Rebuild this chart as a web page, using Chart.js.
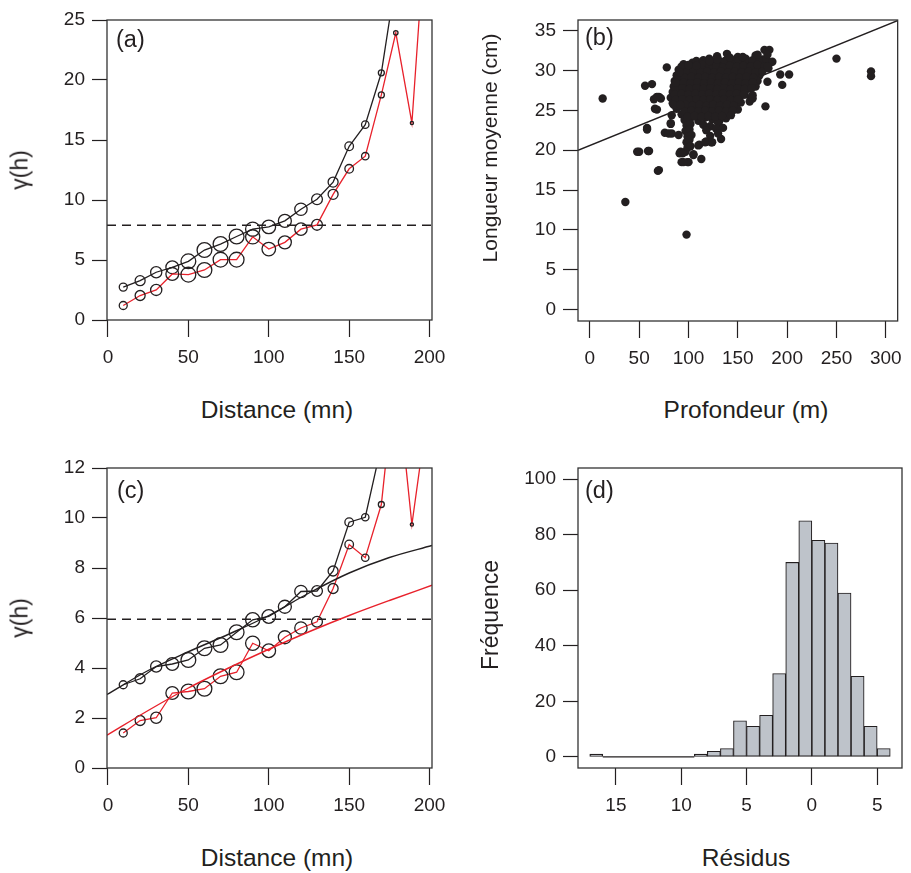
<!DOCTYPE html>
<html><head><meta charset="utf-8">
<script src="https://cdn.jsdelivr.net/npm/chart.js@4.4.1/dist/chart.umd.min.js"></script>
<style>
html,body{margin:0;padding:0;background:#fff;}
#wrap{position:relative;width:911px;height:873px;overflow:hidden;font-family:'Liberation Sans',Arial,Helvetica,sans-serif;color:#231f20;}
canvas{position:absolute;}
.t{position:absolute;white-space:nowrap;line-height:1;font-size:24.5px;transform:translate(-50%,-50%);}
.ty{position:absolute;white-space:nowrap;line-height:1;font-size:23px;transform:translate(-50%,-50%) rotate(-90deg);}
.p{position:absolute;white-space:nowrap;line-height:1;font-size:23.5px;}
</style></head>
<body><div id="wrap">
<canvas id="ca" width="460" height="380" style="left:0;top:0"></canvas>
<canvas id="cb" width="451" height="380" style="left:460px;top:0"></canvas>
<canvas id="cc" width="460" height="388" style="left:0;top:440px"></canvas>
<canvas id="cd" width="451" height="388" style="left:460px;top:440px"></canvas>

<div class="p" style="left:116px;top:28px">(a)</div>
<div class="p" style="left:585px;top:26px">(b)</div>
<div class="p" style="left:117px;top:479px">(c)</div>
<div class="p" style="left:585px;top:479px">(d)</div>

<div class="t" style="left:277px;top:410px">Distance (mn)</div>
<div class="t" style="left:746px;top:410px">Profondeur (m)</div>
<div class="t" style="left:277px;top:858px">Distance (mn)</div>
<div class="t" style="left:746px;top:858px">Résidus</div>
<div class="ty" style="left:20px;top:170px">γ(h)</div>
<div class="ty" style="left:489px;top:148px;font-size:21px">Longueur moyenne (cm)</div>
<div class="ty" style="left:20px;top:618px">γ(h)</div>
<div class="ty" style="left:490px;top:615px">Fréquence</div>
</div>
<script>
// ---------------- DATA ----------------
// (a) empirical variograms (distance classes, mn)
const lags = [9.5, 20, 30, 40, 50, 60, 70, 80, 90, 100, 110, 120, 130, 140, 150, 160, 170, 179, 189, 199];
const gammaBlackA = [2.74, 3.28, 3.98, 4.39, 4.89, 5.83, 6.33, 6.96, 7.57, 7.76, 8.26, 9.23, 10.06, 11.49, 14.48, 16.28, 20.6, 28.4];
const gammaRedA = [1.21, 2.04, 2.51, 3.84, 3.78, 4.17, 5.03, 5.03, 6.93, 5.91, 6.47, 7.57, 7.93, 10.47, 12.6, 13.65, 18.76, 23.93, 16.42, 35.7];
const sillA = 7.9;
const xTicksDist = [0, 50, 100, 150, 200];
const yTicksA = [0, 5, 10, 15, 20, 25];

// (c) residual variograms and fitted models
const gammaBlackC = [3.33, 3.57, 4.06, 4.16, 4.32, 4.79, 4.92, 5.43, 5.93, 6.06, 6.45, 7.06, 7.08, 7.88, 9.83, 10.03, 12.9];
const gammaRedC = [1.40, 1.90, 2.01, 3.00, 3.06, 3.17, 3.67, 3.83, 4.99, 4.69, 5.23, 5.60, 5.85, 7.18, 8.94, 8.41, 10.54, 16.0, 9.74, 14.4];
const modelDist = [-0.6, 25, 50, 75, 100, 125, 150, 175, 201.5];
const modelBlackC = [2.94, 3.9, 4.65, 5.35, 6.1, 7.0, 7.8, 8.42, 8.9];
const modelRedC = [1.31, 2.3, 3.2, 4.0, 4.75, 5.45, 6.1, 6.7, 7.31];
const sillC = 5.95;
const yTicksC = [0, 2, 4, 6, 8, 10, 12];

// (b) depth (m) vs mean length (cm), with regression line
const profondeurLongueur = [
 [121,31.5],[129,31.8],[140,31.4],[150,31.7],[158,31.5],[168,31.9],[175,31.4],
 [95,30.8],[104,31.0],[111,30.7],[119,31.1],[126,30.9],[134,30.6],[140,31.0],[147,30.8],[155,31.1],[161,30.7],[168,30.9],[176,30.6],[183,31.0],
 [90,30.1],[97,30.3],[104,30.0],[111,30.4],[118,30.2],[125,29.9],[132,30.3],[139,30.1],[146,30.4],[153,30.0],[160,30.2],[167,30.5],[174,30.1],[181,30.3],
 [88,29.4],[95,29.6],[102,29.3],[109,29.7],[116,29.5],[123,29.2],[130,29.6],[137,29.4],[144,29.7],[151,29.3],[158,29.5],[165,29.8],[172,29.4],
 [86,28.7],[93,28.9],[100,28.6],[107,29.0],[114,28.8],[121,28.5],[128,28.9],[135,28.7],[142,29.0],[149,28.6],[156,28.8],[163,29.1],[170,28.7],
 [85,28.0],[92,28.2],[99,27.9],[106,28.3],[113,28.1],[120,27.8],[127,28.2],[134,28.0],[141,28.3],[148,27.9],[155,28.1],[162,28.4],[168,28.0],
 [84,27.3],[91,27.5],[98,27.2],[105,27.6],[112,27.4],[119,27.1],[126,27.5],[133,27.3],[140,27.6],[147,27.2],[154,27.4],[160,27.7],
 [82,26.6],[89,26.8],[96,26.5],[103,26.9],[110,26.7],[117,26.4],[124,26.8],[131,26.6],[138,26.9],[145,26.5],[152,26.7],[157,27.0],
 [84,25.9],[91,26.1],[98,25.8],[105,26.2],[112,26.0],[119,25.7],[126,26.1],[133,25.9],[140,26.2],[147,25.8],[153,26.0],
 [88,25.2],[95,25.4],[102,25.1],[109,25.5],[116,25.3],[123,25.0],[130,25.4],[137,25.2],[144,25.5],[150,25.1],
 [93,24.5],[100,24.7],[107,24.4],[114,24.8],[121,24.6],[128,24.3],[135,24.7],[142,24.5],
 [96,23.8],[102,24.0],[110,23.7],[117,24.1],[124,23.9],[131,23.6],[138,24.0],
 [98,23.1],[102,23.3],[115,23.2],[122,23.0],[130,23.4],
 [97,22.4],[101,22.6],[118,22.5],[128,22.7],
 [99,21.7],[103,21.9],[122,21.8],
 [98,21.0],[101,21.3],[99,20.3],[102,20.5],[97,19.8],
 [108,31.2],[115,31.3],[123,31.2],[130,31.4],[137,31.2],[144,31.3],[151,31.2],[158,31.1],[165,31.3],[172,31.2],[179,31.4],
 [93,30.5],[100,30.6],[107,30.5],[114,30.7],[121,30.5],[128,30.6],[135,30.4],[142,30.6],[149,30.5],[156,30.6],[163,30.5],[170,30.7],[177,30.5],
 [91,29.9],[98,29.8],[105,29.9],[112,29.8],[119,29.9],[126,29.8],[133,29.9],[140,29.8],[147,29.9],[154,29.8],[161,29.9],[168,29.8],[175,29.9],
 [89,29.2],[96,29.1],[103,29.2],[110,29.1],[117,29.2],[124,29.1],[131,29.2],[138,29.1],[145,29.2],[152,29.1],[159,29.2],[166,29.1],
 [88,28.4],[95,28.5],[102,28.4],[109,28.5],[116,28.4],[123,28.5],[130,28.4],[137,28.5],[144,28.4],[151,28.5],[158,28.4],[165,28.5],
 [87,27.7],[94,27.8],[101,27.7],[108,27.8],[115,27.7],[122,27.8],[129,27.7],[136,27.8],[143,27.7],[150,27.8],[157,27.7],[164,27.8],
 [86,27.0],[93,27.1],[100,27.0],[107,27.1],[114,27.0],[121,27.1],[128,27.0],[135,27.1],[142,27.0],[149,27.1],[156,27.0],
 [87,26.3],[94,26.4],[101,26.3],[108,26.4],[115,26.3],[122,26.4],[129,26.3],[136,26.4],[143,26.3],[150,26.4],
 [90,25.6],[97,25.7],[104,25.6],[111,25.7],[118,25.6],[125,25.7],[132,25.6],[139,25.7],[146,25.6],
 [96,24.9],[103,25.0],[110,24.9],[117,25.0],[124,24.9],[131,25.0],[138,24.9],[145,25.0],
 [99,24.2],[106,24.3],[113,24.2],[120,24.3],[127,24.2],[134,24.3],
 [13,26.5],[36,13.5],[98,9.4],[69,17.4],[48,19.8],[59,19.9],[58,22.8],[250,31.5],[285,29.9],[285,29.3],
 [78,30.4],[56,28.1],[63,28.3],[65,26.4],[70,26.7],[66,25.2],[76,22.2],[82,23.3],[83,22.1],[90,21.9],
 [92,19.8],[93,18.5],[99,18.5],[105,19.4],[113,18.9],[111,20.7],[118,21.1],[123,21.0],[133,21.4],[135,22.8],
 [130,22.1],[143,24.4],[163,26.5],[165,26.9],[178,25.5],[180,28.6],[195,28.2],[193,29.5],[202,29.5],[177,32.6],
 [182,32.6],[180,32.0],[185,31.1],[180,30.5],[170,32.0],[155,31.7],[139,32.1],[142,31.6],[129,31.4],[121,31.2],
 [108,30.6],[100,30.7],[91,29.8],[87,28.5],[85,25.7],[92,25.7],[83,24.4],[72,26.5],[68,26.7],[68,25.1],
 [58,22.6],[50,19.8],[60,19.9],[70,17.5],[80,22.1],[82,23.4],[91,19.6],[94,19.6],[105,19.5],[110,20.6],
 [117,21.0],[124,21.0],[100,18.5],[95,18.5],[162,26.1],[165,26.5]
];
const regLineX = [-12, 312];
const regLineY = [19.98, 36.28];
const xTicksB = [0, 50, 100, 150, 200, 250, 300];
const yTicksB = [0, 5, 10, 15, 20, 25, 30, 35];

// (d) histogram of residuals (bin width 1)
const binStarts = [-17,-16,-15,-14,-13,-12,-11,-10,-9,-8,-7,-6,-5,-4,-3,-2,-1,0,1,2,3,4,5];
const counts    = [1,0,0,0,0,0,0,0,1,2,3,13,11,15,30,70,85,78,77,59,29,11,3];
const xTicksD = [-15, -10, -5, 0, 5];
const xTickLabelsD = ['15', '10', '5', '0', '5'];
const yTicksD = [0, 20, 40, 60, 80, 100];

// ---------------- STYLE ----------------
const FONT = "'Liberation Sans', Arial, Helvetica, sans-serif";
const INK = '#231f20';
const RED = '#e8212b';
const circleRadius = [4, 5, 5.6, 6.4, 7.4, 7.4, 7.4, 7.4, 7.1, 6.8, 6.5, 6.2, 5.4, 5, 4.3, 3.7, 3, 2.2, 1.6, 1.2];

const framePlugin = {
  id: 'frame',
  afterDraw(chart) {
    const {ctx, chartArea: a} = chart;
    ctx.save();
    ctx.strokeStyle = '#333';
    ctx.lineWidth = 1.3;
    ctx.strokeRect(a.left, a.top, a.right - a.left, a.bottom - a.top);
    ctx.restore();
  }
};

function scales(o) {
  return {
    x: {
      type: 'linear', position: 'bottom', min: o.xMin, max: o.xMax, offset: false,
      border: {display: false},
      grid: {display: true, offset: false, drawOnChartArea: false, drawTicks: true, tickLength: 17, tickWidth: 1.2, tickColor: INK},
      ticks: {padding: 9, color: INK, font: {family: FONT, size: 19}, maxRotation: 0, minRotation: 0, autoSkip: false,
              callback: (v, i) => o.xLabels ? o.xLabels[i] : String(v)},
      afterBuildTicks: s => { s.ticks = o.xTicks.map(v => ({value: v})); },
      afterFit: s => { s.height = o.xH; }
    },
    y: {
      type: 'linear', position: 'left', min: o.yMin, max: o.yMax,
      border: {display: false},
      grid: {display: true, drawOnChartArea: false, drawTicks: true, tickLength: 15, tickWidth: 1.2, tickColor: INK},
      ticks: {padding: 7, color: INK, font: {family: FONT, size: 19}, autoSkip: false, callback: v => String(v)},
      afterBuildTicks: s => { s.ticks = o.yTicks.map(v => ({value: v})); },
      afterFit: s => { s.width = o.yW; }
    }
  };
}
function baseOpts(o, padding) {
  return {
    responsive: false, animation: false, devicePixelRatio: 1,
    layout: {padding},
    plugins: {legend: {display: false}, tooltip: {enabled: false}},
    scales: scales(o)
  };
}
const pts = (xs, ys) => ys.map((y, i) => ({x: xs[i], y}));
function seriesDS(xs, ys, lineColor) {
  return {
    data: pts(xs, ys), showLine: true, borderColor: lineColor, borderWidth: 1.3, tension: 0,
    pointRadius: circleRadius.slice(0, ys.length), pointBorderColor: INK, pointBorderWidth: 1.3,
    pointBackgroundColor: 'rgba(0,0,0,0)', pointHoverRadius: circleRadius.slice(0, ys.length)
  };
}
function hline(x0, x1, y) {
  return {data: [{x: x0, y}, {x: x1, y}], showLine: true, borderColor: INK, borderWidth: 1.5, borderDash: [9, 6], pointRadius: 0};
}

// (a)
const xRangeDist = [-0.6, 201.5];
new Chart(document.getElementById('ca'), {
  type: 'scatter',
  data: {datasets: [
    seriesDS(lags, gammaRedA, RED),
    seriesDS(lags, gammaBlackA, INK),
    hline(xRangeDist[0], xRangeDist[1], sillA)
  ]},
  options: baseOpts({xMin: xRangeDist[0], xMax: xRangeDist[1], yMin: 0, yMax: 25, xTicks: xTicksDist, yTicks: yTicksA, xH: 60, yW: 107},
                    {left: 0, top: 20, right: 28, bottom: 0}),
  plugins: [framePlugin]
});

// (b)
new Chart(document.getElementById('cb'), {
  type: 'scatter',
  data: {datasets: [
    {data: profondeurLongueur.map(p => ({x: p[0], y: p[1]})), pointRadius: 4.2, pointBackgroundColor: INK, pointBorderWidth: 0, pointHoverRadius: 4.2},
    {data: pts(regLineX, regLineY), showLine: true, borderColor: INK, borderWidth: 1.4, pointRadius: 0}
  ]},
  options: baseOpts({xMin: -12, xMax: 312, yMin: -1.45, yMax: 36.35, xTicks: xTicksB, yTicks: yTicksB, xH: 59, yW: 118},
                    {left: 0, top: 20, right: 9, bottom: 0}),
  plugins: [framePlugin]
});

// (c)
new Chart(document.getElementById('cc'), {
  type: 'scatter',
  data: {datasets: [
    {data: pts(modelDist, modelRedC), showLine: true, borderColor: RED, borderWidth: 1.4, pointRadius: 0, cubicInterpolationMode: 'monotone'},
    {data: pts(modelDist, modelBlackC), showLine: true, borderColor: INK, borderWidth: 1.4, pointRadius: 0, cubicInterpolationMode: 'monotone'},
    seriesDS(lags, gammaRedC, RED),
    seriesDS(lags, gammaBlackC, INK),
    hline(xRangeDist[0], xRangeDist[1], sillC)
  ]},
  options: baseOpts({xMin: xRangeDist[0], xMax: xRangeDist[1], yMin: 0, yMax: 12, xTicks: xTicksDist, yTicks: yTicksC, xH: 60, yW: 107},
                    {left: 0, top: 28, right: 28, bottom: 0}),
  plugins: [framePlugin]
});

// (d)
const zeroBins = binStarts.filter((s, i) => counts[i] === 0);
const zeroLine = zeroBins.map(s => ({x: s, y: 0})).concat(zeroBins.length ? [{x: zeroBins[zeroBins.length - 1] + 1, y: 0}] : []);
new Chart(document.getElementById('cd'), {
  type: 'bar',
  data: {datasets: [
    {type: 'bar', data: binStarts.map((s, i) => ({x: s + 0.5, y: counts[i]})), backgroundColor: '#bec3ca',
     borderColor: INK, borderWidth: 1.1, borderSkipped: false, barPercentage: 1, categoryPercentage: 1, grouped: false},
    {type: 'line', data: zeroLine, borderColor: INK, borderWidth: 1.3, pointRadius: 0}
  ]},
  options: baseOpts({xMin: -17.9, xMax: 6.9, yMin: -4, yMax: 104, xTicks: xTicksD, xLabels: xTickLabelsD, yTicks: yTicksD, xH: 60, yW: 118},
                    {left: 0, top: 28, right: 9, bottom: 0}),
  plugins: [framePlugin]
});
</script>
</body></html>
